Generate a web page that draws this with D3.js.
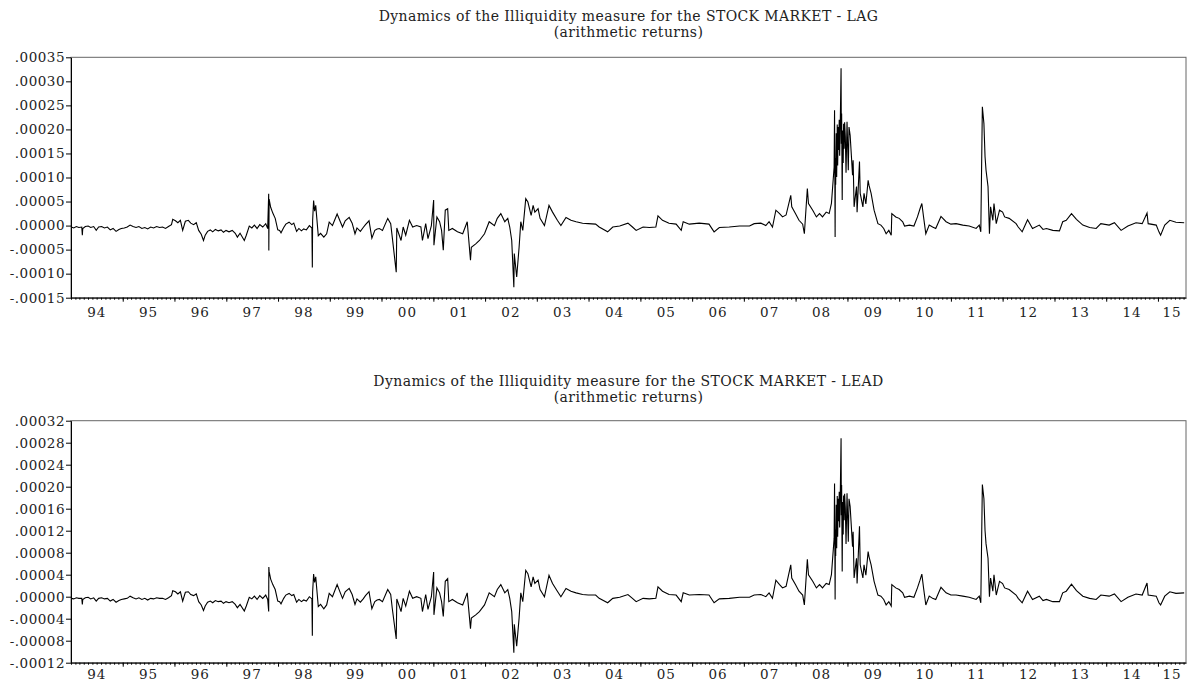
<!DOCTYPE html>
<html>
<head>
<meta charset="utf-8">
<script src="https://cdn.jsdelivr.net/npm/d3@7"></script>
<style>
  body { margin: 0; background: #fff; }
  text { font-family: "DejaVu Serif", serif; fill: #222; }
</style>
</head>
<body>
<svg id="chart" width="1194" height="682"></svg>
<script>
// x axis year labels
const years = ["94","95","96","97","98","99","00","01","02","03","04","05","06","07","08","09","10","11","12","13","14","15"];

// y ticks, values are in units of 1e-5
const lagTicks = [35, 30, 25, 20, 15, 10, 5, 0, -5, -10, -15];
const lagTickLabels = [".00035",".00030",".00025",".00020",".00015",".00010",".00005",".00000","-.00005","-.00010","-.00015"];
const leadTicks = [32, 28, 24, 20, 16, 12, 8, 4, 0, -4, -8, -12];
const leadTickLabels = [".00032",".00028",".00024",".00020",".00016",".00012",".00008",".00004",".00000","-.00004","-.00008","-.00012"];

// illiquidity measure, LAG (x 1e-5)
const lagSeries = [
  ["1994-01-03",-0.3],["1994-01-20",-0.5],["1994-02-08",-0.2],["1994-02-25",-0.4],["1994-03-18",-0.3],["1994-03-22",-2.0],["1994-03-25",-0.6],["1994-04-12",-0.2],["1994-05-02",-0.1],["1994-05-20",-0.4],["1994-06-10",-0.2],["1994-06-28",-1.0],["1994-07-15",-0.3],["1994-08-05",-0.2],["1994-08-25",-0.5],["1994-09-15",-0.3],["1994-10-05",-0.9],["1994-10-25",-0.6],["1994-11-15",-1.2],["1994-12-05",-0.8],["1994-12-22",-0.6],
  ["1995-01-12",-0.5],["1995-02-02",-0.3],["1995-02-22",0.1],["1995-03-15",-0.2],["1995-04-05",-0.4],["1995-04-25",-0.2],["1995-05-16",-0.6],["1995-06-06",-0.4],["1995-06-26",-0.7],["1995-07-17",-0.3],["1995-08-07",-0.5],["1995-08-28",-0.2],["1995-09-18",-0.4],["1995-10-09",-0.3],["1995-10-30",-0.6],["1995-11-20",-0.2],["1995-12-11",0.2],["1995-12-20",1.3],
  ["1996-01-08",1.0],["1996-01-25",0.6],["1996-02-12",1.1],["1996-02-28",-1.0],["1996-03-18",0.9],["1996-04-08",1.1],["1996-04-25",0.5],["1996-05-15",0.2],["1996-06-03",0.6],["1996-06-20",-1.0],["1996-07-08",-1.8],["1996-07-24",-3.1],["1996-08-05",-2.0],["1996-08-22",-1.2],["1996-09-10",-0.9],["1996-09-27",-1.3],["1996-10-16",-0.8],["1996-11-05",-1.1],["1996-11-25",-0.9],["1996-12-12",-1.4],["1996-12-30",-1.0],
  ["1997-01-20",-1.3],["1997-02-12",-1.0],["1997-03-05",-1.6],["1997-03-20",-2.4],["1997-04-08",-1.6],["1997-05-08",-3.1],["1997-05-22",-2.0],["1997-06-12",-0.1],["1997-06-30",-0.5],["1997-07-18",0.1],["1997-08-06",-0.6],["1997-08-25",0.2],["1997-09-15",-0.3],["1997-10-06",0.4],["1997-10-20",-0.6],["1997-10-27",6.6],["1997-10-28",-5.2],["1997-10-30",5.5],["1997-11-10",3.8],["1997-11-25",2.6],["1997-12-12",1.5],["1997-12-30",-0.9],
  ["1998-01-12",-1.0],["1998-01-22",-1.5],["1998-02-10",-0.4],["1998-02-25",0.3],["1998-03-20",0.7],["1998-04-08",0.2],["1998-04-22",0.5],["1998-05-12",-1.2],["1998-05-28",-0.6],["1998-06-15",-1.1],["1998-07-01",-0.7],["1998-07-20",-0.9],["1998-08-10",0.0],["1998-08-28",-0.5],["1998-08-31",-8.7],["1998-09-02",1.0],["1998-09-09",5.2],["1998-09-16",3.0],["1998-09-24",4.2],["1998-10-01",1.7],["1998-10-12",-2.1],["1998-10-28",-1.6],["1998-11-20",-2.4],["1998-12-10",-1.7],["1998-12-28",0.7],
  ["1999-01-20",0.0],["1999-02-22",2.4],["1999-03-18",0.7],["1999-04-01",-0.3],["1999-04-20",1.0],["1999-05-18",1.7],["1999-06-08",0.5],["1999-06-28",-1.7],["1999-07-12",-0.5],["1999-08-05",-1.2],["1999-08-25",-0.4],["1999-09-10",0.2],["1999-10-05",1.0],["1999-10-25",-2.6],["1999-11-15",-1.0],["1999-12-01",-0.7],["1999-12-17",-0.6],
  ["2000-01-08",-1.0],["2000-02-14",1.5],["2000-03-06",0.4],["2000-03-17",-2.4],["2000-04-14",-9.7],["2000-04-18",-0.5],["2000-05-18",-3.1],["2000-06-02",-0.3],["2000-06-20",-2.0],["2000-07-16",1.1],["2000-08-08",-0.3],["2000-09-05",0.0],["2000-10-05",-0.3],["2000-10-16",-3.1],["2000-11-08",0.4],["2000-11-24",-2.7],["2000-12-18",0.0],
  ["2001-01-03",5.3],["2001-01-05",-4.1],["2001-01-26",1.8],["2001-02-14",0.8],["2001-02-28",-1.0],["2001-03-12",-5.1],["2001-03-26",3.2],["2001-04-12",3.5],["2001-04-20",-1.0],["2001-05-15",-0.6],["2001-06-20",-1.3],["2001-07-27",-1.7],["2001-08-28",0.8],["2001-09-20",-7.2],["2001-09-26",-4.5],["2001-10-27",-3.8],["2001-11-22",-3.1],["2001-12-28",-1.7],
  ["2002-01-30",0.8],["2002-03-08",0.0],["2002-03-28",1.5],["2002-04-22",2.5],["2002-05-20",0.8],["2002-06-10",1.5],["2002-06-24",-0.3],["2002-07-08",-3.1],["2002-07-23",-12.8],["2002-07-26",-5.8],["2002-08-12",-10.7],["2002-08-29",-4.5],["2002-09-10",0.8],["2002-09-24",-1.0],["2002-10-15",5.6],["2002-10-30",4.9],["2002-11-22",2.1],["2002-12-06",4.2],["2002-12-18",2.8],
  ["2003-01-10",3.5],["2003-01-24",1.5],["2003-02-24",0.0],["2003-03-28",4.2],["2003-04-22",2.8],["2003-05-26",1.1],["2003-06-20",0.0],["2003-07-26",1.7],["2003-08-30",1.1],["2003-10-05",0.8],["2003-11-20",0.5],["2003-12-30",0.4],
  ["2004-02-20",0.3],["2004-03-16",-0.3],["2004-05-15",-1.3],["2004-06-20",-0.3],["2004-08-08",-0.1],["2004-10-05",0.5],["2004-11-06",-0.3],["2004-12-02",-1.0],
  ["2005-01-20",-0.3],["2005-03-05",-0.4],["2005-04-20",-0.3],["2005-05-05",2.0],["2005-06-06",1.1],["2005-07-22",0.5],["2005-09-10",0.3],["2005-10-16",-1.0],["2005-10-30",0.8],["2005-12-12",0.3],
  ["2006-02-20",0.5],["2006-04-30",0.3],["2006-06-05",-1.3],["2006-07-12",-0.4],["2006-09-20",-0.3],["2006-12-02",-0.1],
  ["2007-02-10",-0.1],["2007-03-15",0.4],["2007-05-01",0.5],["2007-06-05",0.0],["2007-06-28",0.8],["2007-07-22",-0.3],["2007-08-15",3.2],["2007-09-10",2.5],["2007-10-01",1.8],["2007-10-26",2.2],["2007-11-28",6.3],["2007-12-05",3.9],["2007-12-31",2.5],
  ["2008-01-25",1.1],["2008-02-20",0.3],["2008-03-03",-1.7],["2008-03-24",7.7],["2008-04-01",4.6],["2008-05-01",3.2],["2008-05-27",1.8],["2008-06-18",2.5],["2008-07-09",1.8],["2008-08-04",2.8],["2008-08-25",2.5],["2008-09-10",4.6],
  ["2008-09-29",12.2],["2008-10-02",24.0],["2008-10-06",-2.4],["2008-10-08",14.0],["2008-10-10",8.5],["2008-10-14",19.2],["2008-10-17",10.1],["2008-10-21",21.0],["2008-10-24",12.5],["2008-10-28",20.5],["2008-10-31",15.7],["2008-11-04",22.0],["2008-11-07",14.5],["2008-11-11",20.5],["2008-11-17",32.7],["2008-11-19",17.0],["2008-11-21",23.3],["2008-11-25",5.3],["2008-11-28",19.8],["2008-12-02",13.0],["2008-12-05",21.2],["2008-12-09",16.0],["2008-12-12",21.5],["2008-12-17",18.5],["2008-12-22",11.0],["2008-12-29",21.6],
  ["2009-01-07",11.5],["2009-01-12",20.5],["2009-01-20",18.8],["2009-02-06",10.5],["2009-02-10",13.6],["2009-02-17",3.9],["2009-03-06",8.1],["2009-03-10",2.8],["2009-03-27",13.3],["2009-04-01",6.7],["2009-04-20",3.9],["2009-04-28",6.7],["2009-05-11",4.5],["2009-05-27",9.4],["2009-06-02",8.4],["2009-06-17",6.7],["2009-07-08",3.2],["2009-08-04",0.4],["2009-08-25",0.1],["2009-09-14",-0.6],["2009-10-01",-1.7],["2009-10-20",-1.0],["2009-11-06",-2.0],["2009-11-10",2.5],["2009-12-08",1.8],
  ["2010-01-01",1.5],["2010-01-26",0.8],["2010-02-08",-0.1],["2010-03-15",0.1],["2010-04-15",-0.1],["2010-05-10",1.8],["2010-05-28",3.5],["2010-06-10",4.6],["2010-06-22",1.8],["2010-07-08",-1.7],["2010-08-01",0.1],["2010-08-25",-0.3],["2010-09-16",-0.6],["2010-10-23",1.9],["2010-11-28",0.8],
  ["2011-01-01",0.3],["2011-02-06",0.4],["2011-03-26",0.1],["2011-05-10",-0.1],["2011-06-28",-0.6],["2011-07-20",0.1],["2011-07-31",-1.3],["2011-08-11",24.7],["2011-08-22",21.2],["2011-08-30",14.3],["2011-09-06",11.5],["2011-09-20",8.1],["2011-09-30",-1.7],["2011-10-08",3.9],["2011-10-24",1.1],["2011-11-01",4.6],["2011-11-17",0.4],["2011-12-10",3.2],
  ["2012-01-01",2.8],["2012-01-15",1.8],["2012-02-16",1.5],["2012-04-05",0.4],["2012-04-20",-0.3],["2012-05-18",-1.3],["2012-06-25",1.2],["2012-07-30",-0.6],["2012-09-16",0.1],["2012-10-12",-0.8],["2012-11-05",-0.6],["2012-12-20",-1.0],
  ["2013-02-05",-1.1],["2013-02-28",0.8],["2013-03-25",1.1],["2013-05-01",2.5],["2013-06-05",1.3],["2013-07-20",0.1],["2013-09-06",-0.4],["2013-10-22",-0.6],["2013-11-24",0.4],
  ["2014-01-22",0.1],["2014-02-28",0.6],["2014-04-16",-1.0],["2014-06-03",-0.1],["2014-07-30",0.6],["2014-09-12",0.4],["2014-10-16",2.6],["2014-10-24",0.4],["2014-12-20",0.1],
  ["2015-01-08",-1.3],["2015-01-20",-2.0],["2015-02-18",0.1],["2015-03-26",1.1],["2015-05-08",0.7],["2015-07-05",0.6]
];

// illiquidity measure, LEAD (x 1e-5)
const leadSeries = [
  ["1994-01-03",-0.3],["1994-01-20",-0.4],["1994-02-08",-0.2],["1994-02-25",-0.3],["1994-03-18",-0.3],["1994-03-22",-1.4],["1994-03-25",-0.5],["1994-04-12",-0.2],["1994-05-02",-0.1],["1994-05-20",-0.4],["1994-06-10",-0.2],["1994-06-28",-0.8],["1994-07-15",-0.3],["1994-08-05",-0.2],["1994-08-25",-0.4],["1994-09-15",-0.3],["1994-10-05",-0.8],["1994-10-25",-0.5],["1994-11-15",-1.0],["1994-12-05",-0.7],["1994-12-22",-0.5],
  ["1995-01-12",-0.4],["1995-02-02",-0.3],["1995-02-22",0.1],["1995-03-15",-0.2],["1995-04-05",-0.4],["1995-04-25",-0.2],["1995-05-16",-0.5],["1995-06-06",-0.3],["1995-06-26",-0.6],["1995-07-17",-0.3],["1995-08-07",-0.4],["1995-08-28",-0.2],["1995-09-18",-0.3],["1995-10-09",-0.3],["1995-10-30",-0.5],["1995-11-20",-0.2],["1995-12-11",0.2],["1995-12-20",1.1],
  ["1996-01-08",0.9],["1996-01-25",0.5],["1996-02-12",0.9],["1996-02-28",-0.8],["1996-03-18",0.8],["1996-04-08",0.9],["1996-04-25",0.4],["1996-05-15",0.2],["1996-06-03",0.5],["1996-06-20",-0.9],["1996-07-08",-1.5],["1996-07-24",-2.5],["1996-08-05",-1.7],["1996-08-22",-1.0],["1996-09-10",-0.8],["1996-09-27",-1.1],["1996-10-16",-0.7],["1996-11-05",-0.9],["1996-11-25",-0.8],["1996-12-12",-1.2],["1996-12-30",-0.9],
  ["1997-01-20",-1.1],["1997-02-12",-0.9],["1997-03-05",-1.4],["1997-03-20",-2.0],["1997-04-08",-1.4],["1997-05-08",-2.6],["1997-05-22",-1.7],["1997-06-12",-0.1],["1997-06-30",-0.4],["1997-07-18",0.1],["1997-08-06",-0.5],["1997-08-25",0.2],["1997-09-15",-0.3],["1997-10-06",0.3],["1997-10-20",-0.5],["1997-10-27",-2.7],["1997-10-28",5.4],["1997-10-30",4.6],["1997-11-10",3.2],["1997-11-25",2.2],["1997-12-12",1.3],["1997-12-30",-0.8],
  ["1998-01-12",-0.9],["1998-01-22",-1.3],["1998-02-10",-0.3],["1998-02-25",0.3],["1998-03-20",0.6],["1998-04-08",0.2],["1998-04-22",0.4],["1998-05-12",-1.0],["1998-05-28",-0.5],["1998-06-15",-0.9],["1998-07-01",-0.6],["1998-07-20",-0.8],["1998-08-10",0.0],["1998-08-28",-0.4],["1998-08-31",-7.1],["1998-09-02",0.8],["1998-09-09",4.1],["1998-09-16",2.6],["1998-09-24",3.6],["1998-10-01",1.5],["1998-10-12",-1.8],["1998-10-28",-1.4],["1998-11-20",-2.2],["1998-12-10",-1.5],["1998-12-28",0.6],
  ["1999-01-20",0.0],["1999-02-22",2.2],["1999-03-18",0.6],["1999-04-01",-0.3],["1999-04-20",0.9],["1999-05-18",1.5],["1999-06-08",0.4],["1999-06-28",-1.4],["1999-07-12",-0.4],["1999-08-05",-1.0],["1999-08-25",-0.4],["1999-09-10",0.2],["1999-10-05",0.9],["1999-10-25",-2.2],["1999-11-15",-0.9],["1999-12-01",-0.6],["1999-12-17",-0.5],
  ["2000-01-08",-0.9],["2000-02-14",1.3],["2000-03-06",0.4],["2000-03-17",-2.1],["2000-04-14",-7.7],["2000-04-18",-0.4],["2000-05-18",-2.7],["2000-06-02",-0.3],["2000-06-20",-1.7],["2000-07-16",1.0],["2000-08-08",-0.3],["2000-09-05",0.0],["2000-10-05",-0.3],["2000-10-16",-2.7],["2000-11-08",0.4],["2000-11-24",-2.3],["2000-12-18",0.0],
  ["2001-01-03",4.5],["2001-01-05",-3.3],["2001-01-26",1.6],["2001-02-14",0.7],["2001-02-28",-0.9],["2001-03-12",-3.6],["2001-03-26",2.8],["2001-04-12",3.3],["2001-04-20",-0.9],["2001-05-15",-0.5],["2001-06-20",-1.1],["2001-07-27",-1.5],["2001-08-28",0.7],["2001-09-20",-5.8],["2001-09-26",-3.9],["2001-10-27",-3.3],["2001-11-22",-2.7],["2001-12-28",-1.5],
  ["2002-01-30",0.7],["2002-03-08",0.0],["2002-03-28",1.3],["2002-04-22",2.2],["2002-05-20",0.7],["2002-06-10",1.3],["2002-06-24",-0.3],["2002-07-08",-2.7],["2002-07-23",-10.2],["2002-07-26",-5.0],["2002-08-12",-9.0],["2002-08-29",-3.9],["2002-09-10",0.7],["2002-09-24",-0.9],["2002-10-15",4.8],["2002-10-30",4.2],["2002-11-22",1.8],["2002-12-06",3.6],["2002-12-18",2.4],
  ["2003-01-10",3.0],["2003-01-24",1.3],["2003-02-24",0.0],["2003-03-28",3.9],["2003-04-22",2.4],["2003-05-26",1.0],["2003-06-20",0.0],["2003-07-26",1.5],["2003-08-30",1.0],["2003-10-05",0.7],["2003-11-20",0.4],["2003-12-30",0.3],
  ["2004-02-20",0.3],["2004-03-16",-0.3],["2004-05-15",-1.1],["2004-06-20",-0.3],["2004-08-08",-0.1],["2004-10-05",0.4],["2004-11-06",-0.3],["2004-12-02",-0.9],
  ["2005-01-20",-0.3],["2005-03-05",-0.4],["2005-04-20",-0.3],["2005-05-05",1.8],["2005-06-06",1.0],["2005-07-22",0.4],["2005-09-10",0.3],["2005-10-16",-0.9],["2005-10-30",0.7],["2005-12-12",0.3],
  ["2006-02-20",0.4],["2006-04-30",0.3],["2006-06-05",-1.1],["2006-07-12",-0.4],["2006-09-20",-0.3],["2006-12-02",-0.1],
  ["2007-02-10",-0.1],["2007-03-15",0.3],["2007-05-01",0.4],["2007-06-05",0.0],["2007-06-28",0.7],["2007-07-22",-0.3],["2007-08-15",3.0],["2007-09-10",2.2],["2007-10-01",1.6],["2007-10-26",1.9],["2007-11-28",5.8],["2007-12-05",3.4],["2007-12-31",2.2],
  ["2008-01-25",1.0],["2008-02-20",0.3],["2008-03-03",-1.5],["2008-03-24",6.8],["2008-04-01",4.0],["2008-05-01",2.8],["2008-05-27",1.6],["2008-06-18",2.2],["2008-07-09",1.6],["2008-08-04",2.4],["2008-08-25",2.2],["2008-09-10",4.0],
  ["2008-09-29",10.6],["2008-10-02",20.6],["2008-10-06",-0.5],["2008-10-08",12.2],["2008-10-10",7.4],["2008-10-14",16.7],["2008-10-17",8.8],["2008-10-21",18.3],["2008-10-24",10.9],["2008-10-28",17.8],["2008-10-31",13.7],["2008-11-04",19.1],["2008-11-07",12.6],["2008-11-11",17.8],["2008-11-17",28.8],["2008-11-19",14.8],["2008-11-21",20.3],["2008-11-25",4.6],["2008-11-28",17.2],["2008-12-02",11.3],["2008-12-05",18.4],["2008-12-09",13.9],["2008-12-12",18.7],["2008-12-17",16.1],["2008-12-22",9.6],["2008-12-29",18.8],
  ["2009-01-07",10.0],["2009-01-12",17.8],["2009-01-20",16.4],["2009-02-06",9.1],["2009-02-10",11.8],["2009-02-17",3.4],["2009-03-06",7.0],["2009-03-10",2.4],["2009-03-27",12.8],["2009-04-01",5.8],["2009-04-20",3.4],["2009-04-28",5.8],["2009-05-11",3.9],["2009-05-27",8.2],["2009-06-02",7.3],["2009-06-17",5.8],["2009-07-08",2.8],["2009-08-04",0.3],["2009-08-25",0.1],["2009-09-14",-0.5],["2009-10-01",-1.5],["2009-10-20",-0.9],["2009-11-06",-1.7],["2009-11-10",2.2],["2009-12-08",1.6],
  ["2010-01-01",1.3],["2010-01-26",0.7],["2010-02-08",-0.1],["2010-03-15",0.1],["2010-04-15",-0.1],["2010-05-10",1.6],["2010-05-28",3.0],["2010-06-10",4.1],["2010-06-22",1.6],["2010-07-08",-1.5],["2010-08-01",0.1],["2010-08-25",-0.3],["2010-09-16",-0.5],["2010-10-23",1.7],["2010-11-28",0.7],
  ["2011-01-01",0.3],["2011-02-06",0.3],["2011-03-26",0.1],["2011-05-10",-0.1],["2011-06-28",-0.5],["2011-07-20",0.1],["2011-07-31",-1.1],["2011-08-11",20.4],["2011-08-22",17.8],["2011-08-30",12.0],["2011-09-06",9.6],["2011-09-20",7.0],["2011-09-30",0.0],["2011-10-08",3.4],["2011-10-24",1.0],["2011-11-01",4.0],["2011-11-17",0.3],["2011-12-10",2.8],
  ["2012-01-01",2.4],["2012-01-15",1.6],["2012-02-16",1.3],["2012-04-05",0.3],["2012-04-20",-0.3],["2012-05-18",-1.1],["2012-06-25",1.0],["2012-07-30",-0.5],["2012-09-16",0.1],["2012-10-12",-0.7],["2012-11-05",-0.5],["2012-12-20",-0.9],
  ["2013-02-05",-0.9],["2013-02-28",0.7],["2013-03-25",1.0],["2013-05-01",2.3],["2013-06-05",1.1],["2013-07-20",0.1],["2013-09-06",-0.3],["2013-10-22",-0.5],["2013-11-24",0.3],
  ["2014-01-22",0.1],["2014-02-28",0.5],["2014-04-16",-0.9],["2014-06-03",-0.1],["2014-07-30",0.5],["2014-09-12",0.3],["2014-10-16",2.5],["2014-10-24",0.3],["2014-12-20",0.1],
  ["2015-01-08",-1.1],["2015-01-20",-1.5],["2015-02-18",0.1],["2015-03-26",0.9],["2015-05-08",0.6],["2015-07-05",0.7]
];

const PLOT_LEFT = 71;
const PLOT_RIGHT = 1186;
const parseDate = d3.timeParse("%Y-%m-%d");
const START = new Date(1994, 0, 1);
const END = new Date(2015, 6, 18);

let xScale = d3.scaleTime().domain([START, END]).range([PLOT_LEFT, PLOT_RIGHT]);

let svg = d3.select("#chart");

const panels = [
  {title: "Dynamics of the Illiquidity measure for the STOCK MARKET - LAG", titleY: 21,
   top: 57.3, bottom: 297.7, yearY: 19, domain: [-15, 35], ticks: lagTicks, labels: lagTickLabels, data: lagSeries},
  {title: "Dynamics of the Illiquidity measure for the STOCK MARKET - LEAD", titleY: 386,
   top: 420.7, bottom: 662.7, yearY: 16.5, domain: [-12, 32], ticks: leadTicks, labels: leadTickLabels, data: leadSeries}
];

panels.forEach(function(p){
  let yScale = d3.scaleLinear().domain(p.domain).range([p.bottom, p.top]);
  let g = svg.append("g");

  //titles
  let cx = (PLOT_LEFT + PLOT_RIGHT)/2;
  g.append("text").attr("x", cx).attr("y", p.titleY)
   .attr("text-anchor","middle").style("font-size","14px").style("letter-spacing","0.4px").text(p.title);
  g.append("text").attr("x", cx).attr("y", p.titleY + 16)
   .attr("text-anchor","middle").style("font-size","14px").style("letter-spacing","0.4px").text("(arithmetic returns)");

  //frame
  g.append("rect")
   .attr("x", PLOT_LEFT).attr("y", p.top)
   .attr("width", PLOT_RIGHT - PLOT_LEFT).attr("height", p.bottom - p.top)
   .attr("fill","none").attr("stroke","#666").attr("stroke-width",1);

  //line
  let line = d3.line()
               .x(d => xScale(parseDate(d[0])))
               .y(d => yScale(d[1]));
  g.append("path")
   .datum(p.data)
   .attr("fill","none")
   .attr("stroke","#000")
   .attr("stroke-width",1.1)
   .attr("d", line);

  //y axis
  let yaxis = d3.axisLeft(yScale)
                .tickValues(p.ticks)
                .tickFormat((d,i) => p.labels[i])
                .tickSize(5)
                .tickSizeOuter(0)
                .tickPadding(1);
  let ya = g.append("g").attr("transform","translate("+PLOT_LEFT+",0)").call(yaxis);
  ya.selectAll("text").style("font-size","13.5px").style("letter-spacing","0.5px").attr("fill","#222");
  ya.selectAll("line,path").attr("stroke","#000");

  //x axis: monthly minor ticks and yearly major ticks
  let minor = d3.axisBottom(xScale)
                .tickValues(d3.timeMonth.range(START, END))
                .tickFormat("")
                .tickSize(2)
                .tickSizeOuter(0);
  let xm = g.append("g").attr("transform","translate(0,"+p.bottom+")").call(minor);
  xm.selectAll("line,path").attr("stroke","#000");
  let major = d3.axisBottom(xScale)
                .tickValues(d3.timeYear.range(new Date(1995,0,1), END))
                .tickFormat("")
                .tickSize(4)
                .tickSizeOuter(0);
  let xM = g.append("g").attr("transform","translate(0,"+p.bottom+")").call(major);
  xM.selectAll("line").attr("stroke","#000");
  xM.select("path").remove();

  //year labels centred in each year
  g.selectAll("text.year")
   .data(years)
   .join("text")
   .attr("class","year")
   .attr("y", p.bottom + p.yearY)
   .attr("text-anchor","middle")
   .style("font-size","13.5px")
   .style("letter-spacing","1px")
   .text(d => d)
   .attr("x", function(d){
     let yr = (+d < 50 ? 2000 : 1900) + (+d);
     let a = xScale(new Date(yr,0,1));
     let b = Math.min(xScale(new Date(yr+1,0,1)), PLOT_RIGHT);
     let w = this.getComputedTextLength();
     return Math.min((a+b)/2, PLOT_RIGHT - w/2);
   });
});
</script>
</body>
</html>
